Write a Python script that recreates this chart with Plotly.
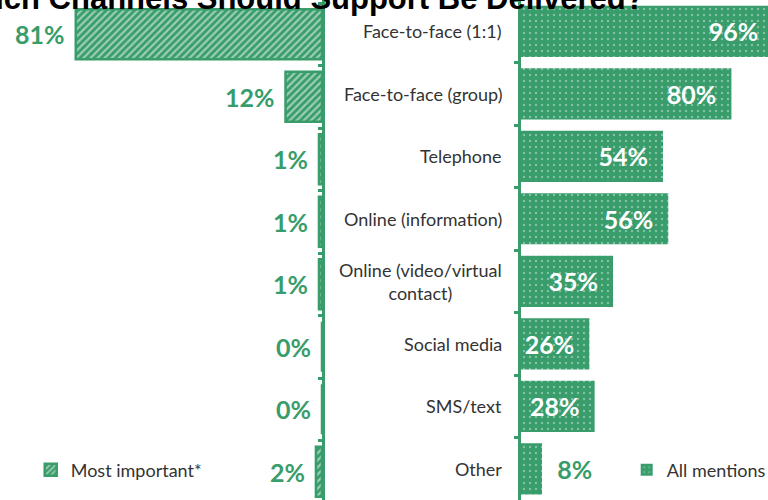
import plotly.graph_objects as go

# ---- data ----
categories = ["Face-to-face (1:1)", "Face-to-face (group)", "Telephone", "Online (information)",
              "Online (video/virtual contact)", "Social media", "SMS/text", "Other"]
category_labels = ["Face-to-face (1:1)", "Face-to-face (group)", "Telephone", "Online (information)",
                   "Online (video/virtual<br>contact)", "Social media", "SMS/text", "Other"]
most_important = [81, 12, 1, 1, 1, 0, 0, 2]
all_mentions = [96, 80, 54, 56, 35, 26, 28, 8]
title_text = "Which Channels Should Support Be Delivered?"
series_names = ["Most important*", "All mentions"]

GREEN = "#389c6b"
TEXT = "#333333"
NB = "\u00a0"
W, H = 768, 500

left_right_px = 322
right_left_px = 521
left_scale = 3.04   # px per %
right_scale = 2.63
LABEL_SIZE = 25
n = len(categories)

# right bars: label inside if it fits, otherwise outside
right_pos = ["inside" if v >= 20 else "outside" for v in all_mentions]
right_text = [f"{v}%{NB}{NB}" if p == "inside" else f"{NB}{NB}{v}%" for v, p in zip(all_mentions, right_pos)]

fig = go.Figure()
fig.add_trace(go.Bar(
    x=most_important, y=categories, orientation="h", xaxis="x", yaxis="y",
    name=series_names[0], legend="legend",
    marker=dict(color=GREEN, line=dict(color=GREEN, width=2.5),
                pattern=dict(shape="/", fgcolor="white", bgcolor=GREEN, size=5, solidity=0.45)),
    width=0.8,
))
fig.add_trace(go.Bar(
    x=all_mentions, y=categories, orientation="h", xaxis="x2", yaxis="y2",
    name=series_names[1], legend="legend2",
    marker=dict(color=GREEN, line=dict(color=GREEN, width=0),
                pattern=dict(shape=".", fgcolor="rgba(255,255,255,0.75)", bgcolor=GREEN, size=6, solidity=0.12)),
    width=0.82,
    text=right_text, textposition=right_pos, insidetextanchor="end",
    insidetextfont=dict(family="Lato", size=LABEL_SIZE, color="white", weight="bold"),
    outsidetextfont=dict(family="Lato", size=LABEL_SIZE, color=GREEN, weight="bold"),
    constraintext="none",
))

axis_common = dict(type="category", categoryorder="array", categoryarray=categories,
                   tickson="boundaries", showgrid=False, zeroline=False,
                   showline=True, linecolor=GREEN, linewidth=3, ticklen=4, tickcolor=GREEN,
                   tickwidth=2.5, showticklabels=False)

fig.update_layout(
    width=W, height=H,
    margin=dict(l=0, r=0, t=0, b=0, autoexpand=False),
    paper_bgcolor="white", plot_bgcolor="white",
    xaxis=dict(domain=[0, left_right_px / W], range=[left_right_px / left_scale, 0],
               visible=False, showgrid=False, zeroline=False),
    yaxis=dict(anchor="x", side="right", ticks="inside", range=[n - 0.548, -0.548], **axis_common),
    xaxis2=dict(domain=[right_left_px / W, 1], range=[0, (W - right_left_px) / right_scale],
                visible=False, showgrid=False, zeroline=False),
    yaxis2=dict(anchor="x2", side="left", ticks="outside", range=[n - 0.5, -0.5], **axis_common),
    showlegend=True,
    legend=dict(x=0.04, y=0.06, xanchor="left", yanchor="middle", bgcolor="rgba(0,0,0,0)",
                font=dict(family="Lato", size=18, color=TEXT), itemwidth=30),
    legend2=dict(x=0.816, y=0.06, xanchor="left", yanchor="middle", bgcolor="rgba(0,0,0,0)",
                 font=dict(family="Lato", size=18, color=TEXT), itemwidth=30),
)

annotations = [dict(text=title_text, xref="paper", yref="paper", x=-55 / W, y=1.003,
                    xanchor="left", yanchor="middle", showarrow=False,
                    font=dict(family="Liberation Sans, Arial", size=31, color="black", weight="bold"))]
for cat, lab in zip(categories, category_labels):
    annotations.append(dict(text=lab, xref="paper", yref="y2", x=right_left_px / W, y=cat,
                            xanchor="right", yanchor="middle", xshift=-17, align="center",
                            showarrow=False, font=dict(family="Lato", size=18, color=TEXT)))
# value labels for the left (most important) bars, placed just beyond each bar end
for cat, v in zip(categories, most_important):
    annotations.append(dict(text=f"{v}%", xref="x", yref="y", x=v, y=cat,
                            xanchor="right", yanchor="middle", xshift=-9, showarrow=False,
                            font=dict(family="Lato", size=LABEL_SIZE, color=GREEN, weight="bold")))
fig.update_layout(annotations=annotations)

fig.write_html("out.html")
